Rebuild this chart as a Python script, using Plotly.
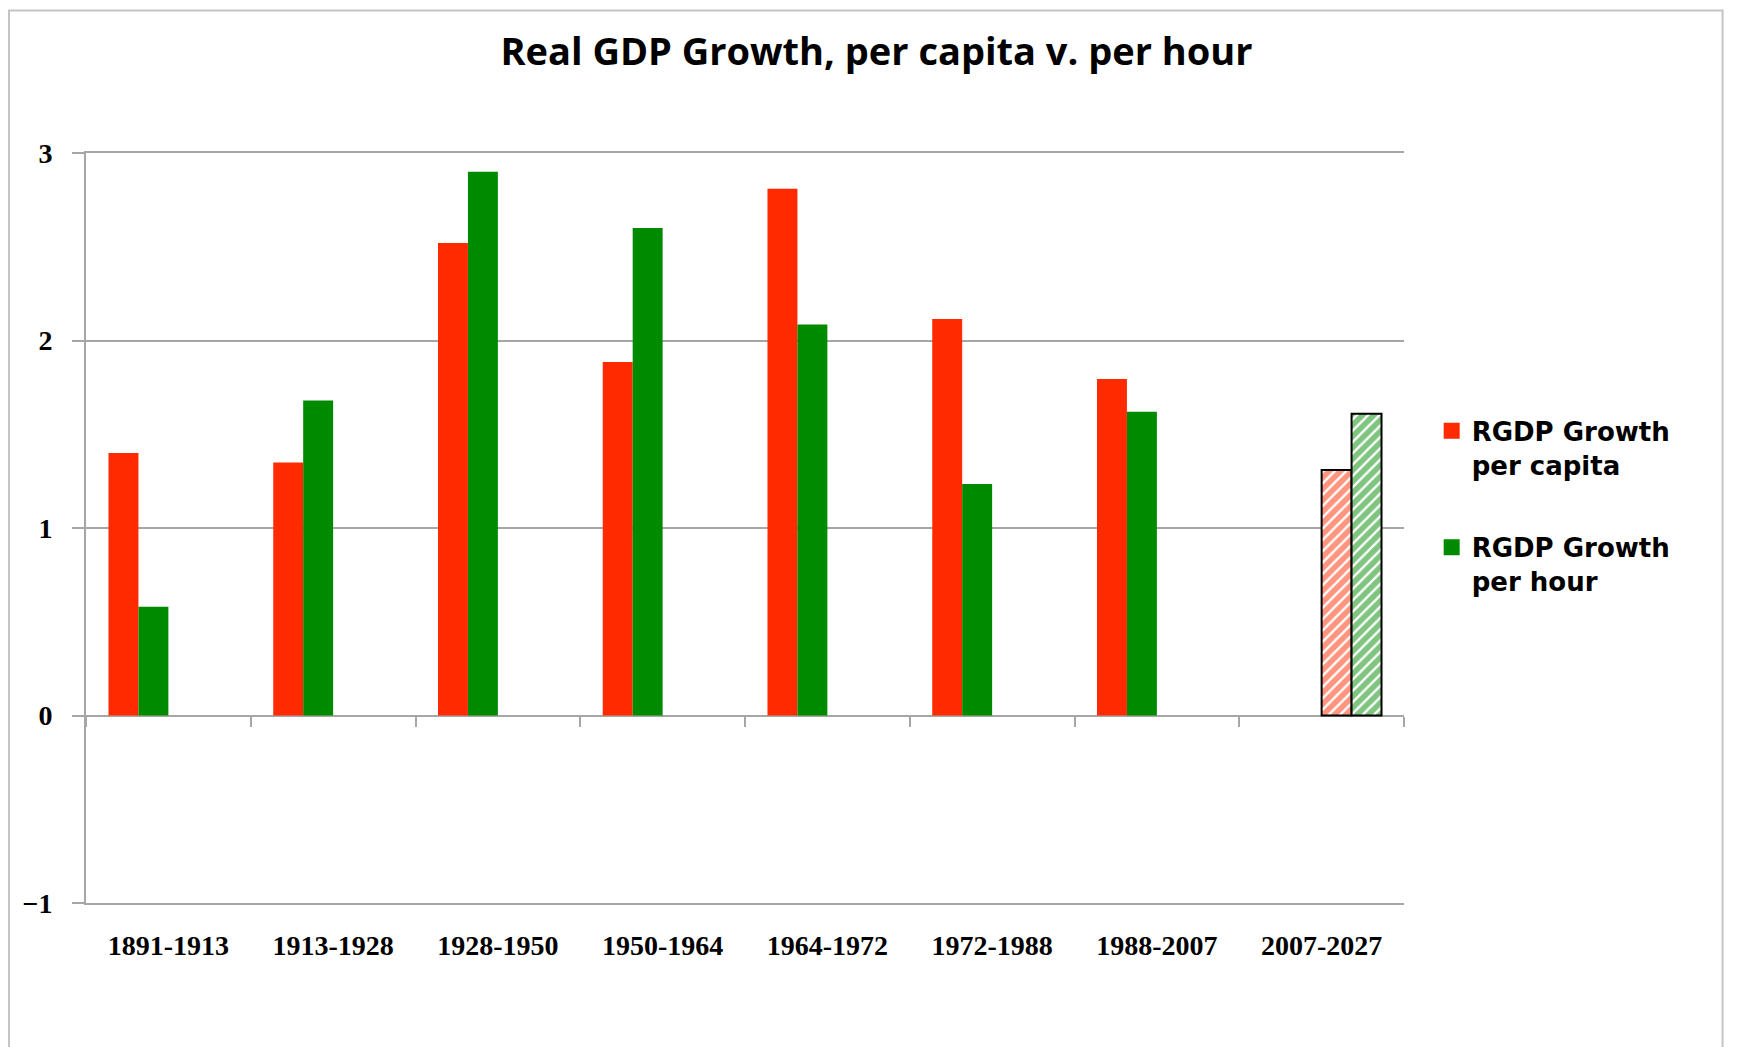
import plotly.graph_objects as go

categories = ["1891-1913", "1913-1928", "1928-1950", "1950-1964",
              "1964-1972", "1972-1988", "1988-2007", "2007-2027"]
per_capita = [1.40, 1.35, 2.52, 1.885, 2.81, 2.115, 1.795, None]
per_hour = [0.58, 1.68, 2.90, 2.60, 2.085, 1.235, 1.62, None]
per_capita_proj = [None, None, None, None, None, None, None, 1.31]
per_hour_proj = [None, None, None, None, None, None, None, 1.61]
y_ticks = [-1, 0, 1, 2, 3]
legend_names = ["RGDP Growth<br>per capita", "RGDP Growth<br>per hour"]

RED = "#ff2a00"
GREEN = "#008a00"
GRID = "#a6a6a6"
serif = "Liberation Serif"

fig = go.Figure()
fig.add_trace(go.Bar(x=categories, y=per_capita, name=legend_names[0], showlegend=False,
                     marker=dict(color=RED, line=dict(width=0))))
fig.add_trace(go.Bar(x=categories, y=per_hour, name=legend_names[1], showlegend=False,
                     marker=dict(color=GREEN, line=dict(width=0))))
fig.add_trace(go.Bar(x=categories, y=per_capita_proj, showlegend=False,
                     marker=dict(color="white", line=dict(color="black", width=2),
                                 pattern=dict(shape="/", fgcolor=RED, bgcolor="white",
                                              size=8, solidity=0.7))))
fig.add_trace(go.Bar(x=categories, y=per_hour_proj, showlegend=False,
                     marker=dict(color="white", line=dict(color="black", width=2),
                                 pattern=dict(shape="/", fgcolor=GREEN, bgcolor="white",
                                              size=8, solidity=0.7))))
# legend entries with larger square swatches
for nm, col, grp in [(legend_names[0], RED, "a"), (legend_names[1], GREEN, "b")]:
    fig.add_trace(go.Scatter(x=[None], y=[None], mode="markers", name=nm,
                             legendgroup=grp, hoverinfo="skip",
                             marker=dict(symbol="square", size=16, color=col)))
# helper trace for the category tick marks on the zero line
fig.add_trace(go.Scatter(x=categories, y=[None] * len(categories), xaxis="x2",
                         showlegend=False, hoverinfo="skip", mode="markers"))

fig.update_layout(
    width=1737, height=1047,
    margin=dict(l=78, r=341, t=145, b=152),
    paper_bgcolor="white", plot_bgcolor="white",
    barmode="group", bargap=0.273, bargroupgap=0,
    title=dict(text="Real GDP Growth, per capita v. per hour",
               font=dict(family="Open Sans", size=38, color="black", weight="bold"),
               x=0.5, xanchor="center", y=0.958, yanchor="middle", yref="container"),
    legend=dict(x=1.021, y=0.661, xanchor="left", yanchor="top", valign="top",
                font=dict(family="DejaVu Sans", size=26, color="black", weight="bold"),
                traceorder="grouped", tracegroupgap=46, itemwidth=30,
                bgcolor="rgba(0,0,0,0)"),
    xaxis=dict(type="category", categoryarray=categories, showgrid=False,
               showline=True, mirror=True, linecolor=GRID, linewidth=1.5,
               ticks="", ticklabelstandoff=17,
               tickfont=dict(family=serif, size=28, color="black", weight="bold")),
    xaxis2=dict(type="category", categoryarray=categories, overlaying="x",
                anchor="free", position=0.25, side="bottom", showgrid=False,
                showline=False, showticklabels=False, ticks="outside",
                tickson="boundaries", ticklen=10, tickwidth=2, tickcolor=GRID,
                matches="x"),
    yaxis=dict(range=[-1, 3], tickvals=y_ticks, showgrid=True, gridcolor=GRID,
               gridwidth=1.5, zeroline=True, zerolinecolor=GRID, zerolinewidth=1.5,
               showline=True, linecolor=GRID, linewidth=2, ticks="outside",
               ticklen=12, tickwidth=1.5, tickcolor=GRID, ticklabelstandoff=14,
               tickfont=dict(family=serif, size=28, color="black", weight="bold")),
    shapes=[dict(type="rect", xref="paper", yref="paper",
                 x0=-0.0584, x1=1.2417, y0=-0.25, y1=1.19,
                 line=dict(color="#c4c4c4", width=2), fillcolor="rgba(0,0,0,0)",
                 layer="below")],
)

fig.write_html("out.html")
